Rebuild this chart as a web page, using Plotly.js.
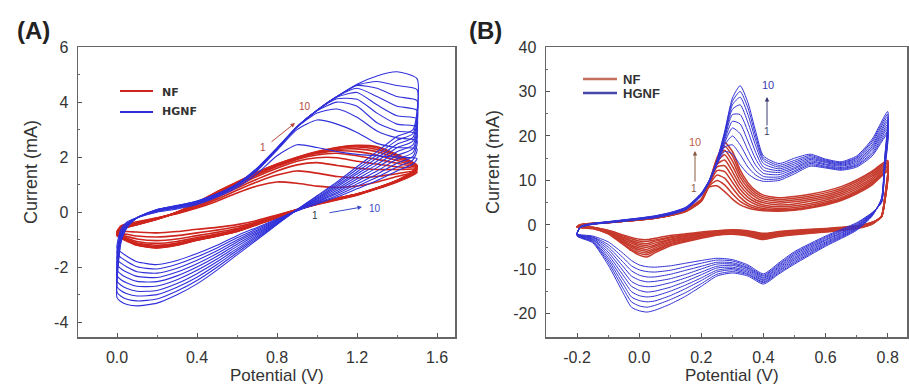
<!DOCTYPE html>
<html><head><meta charset="utf-8">
<script src="https://cdn.plot.ly/plotly-3.0.1.min.js"></script>
<style>html,body{margin:0;padding:0;background:#fff}#c{width:909px;height:387px}</style>
</head><body><div id="c"></div>
<script>
// ---------- Panel A data (potential grid, V) ----------
const A_fwdV = [0, 0.02, 0.05, 0.1, 0.2, 0.3, 0.4, 0.5, 0.6, 0.7, 0.8, 0.9, 1.0, 1.1, 1.2, 1.3, 1.4, 1.5];
const A_revV = [1.48, 1.4, 1.3, 1.2, 1.1, 1.0, 0.9, 0.8, 0.7, 0.6, 0.5, 0.4, 0.3, 0.2, 0.1, 0.05, 0.02, 0];
// HGNF, panel A, cycles 1..10, current (mA)
const A_HGNF_fwd = [
 [-1.3,-0.6,-0.35,-0.2,0.0,0.12,0.28,0.55,0.9,1.4,2.05,2.45,2.35,2.2,2.1,2.05,2.0,1.95],
 [-1.5,-0.7,-0.4,-0.2,0.02,0.15,0.3,0.58,0.95,1.5,2.25,3.0,3.35,3.2,2.9,2.5,2.35,2.3],
 [-1.7,-0.75,-0.42,-0.2,0.04,0.17,0.33,0.6,0.98,1.52,2.28,3.08,3.6,3.75,3.45,2.95,2.7,2.6],
 [-1.9,-0.8,-0.44,-0.2,0.05,0.19,0.35,0.62,1.0,1.55,2.3,3.1,3.68,4.0,3.85,3.25,2.95,2.85],
 [-2.1,-0.85,-0.46,-0.2,0.06,0.2,0.37,0.63,1.0,1.56,2.3,3.1,3.7,4.12,4.1,3.6,3.2,3.1],
 [-2.3,-0.9,-0.48,-0.2,0.07,0.21,0.38,0.64,1.01,1.57,2.31,3.1,3.7,4.18,4.35,3.9,3.5,3.4],
 [-2.5,-0.95,-0.5,-0.2,0.08,0.22,0.39,0.65,1.02,1.58,2.32,3.1,3.7,4.2,4.5,4.2,3.85,3.7],
 [-2.7,-1.0,-0.52,-0.2,0.09,0.23,0.4,0.66,1.02,1.58,2.32,3.1,3.7,4.2,4.6,4.5,4.2,4.05],
 [-2.9,-1.05,-0.54,-0.2,0.1,0.24,0.4,0.66,1.03,1.59,2.33,3.1,3.7,4.2,4.62,4.75,4.6,4.45],
 [-3.1,-1.1,-0.56,-0.2,0.1,0.25,0.41,0.67,1.03,1.6,2.33,3.1,3.7,4.2,4.65,4.95,5.1,4.85]
];
const A_HGNF_rev = [
 [1.75,1.5,1.15,0.85,0.55,0.3,0.05,-0.25,-0.55,-0.85,-1.2,-1.5,-1.75,-1.9,-1.8,-1.6,-1.45,-1.3],
 [1.9,1.64,1.27,0.94,0.61,0.33,0.06,-0.27,-0.6,-0.93,-1.3,-1.62,-1.89,-2.06,-1.98,-1.79,-1.65,-1.5],
 [2.03,1.78,1.38,1.03,0.67,0.37,0.06,-0.29,-0.65,-1.01,-1.4,-1.74,-2.03,-2.21,-2.16,-1.99,-1.85,-1.7],
 [2.17,1.92,1.5,1.12,0.73,0.4,0.07,-0.32,-0.7,-1.08,-1.5,-1.87,-2.17,-2.37,-2.33,-2.18,-2.05,-1.9],
 [2.31,2.06,1.62,1.21,0.79,0.43,0.07,-0.34,-0.75,-1.16,-1.6,-1.99,-2.31,-2.52,-2.51,-2.38,-2.25,-2.1],
 [2.45,2.2,1.73,1.3,0.85,0.47,0.08,-0.36,-0.8,-1.24,-1.7,-2.11,-2.45,-2.68,-2.69,-2.57,-2.45,-2.3],
 [2.59,2.34,1.85,1.39,0.92,0.5,0.08,-0.38,-0.85,-1.32,-1.8,-2.23,-2.59,-2.84,-2.87,-2.77,-2.65,-2.5],
 [2.72,2.47,1.97,1.47,0.98,0.53,0.09,-0.41,-0.9,-1.39,-1.9,-2.36,-2.72,-2.99,-3.04,-2.96,-2.85,-2.7],
 [2.86,2.61,2.08,1.56,1.04,0.57,0.09,-0.43,-0.95,-1.47,-2.0,-2.48,-2.86,-3.15,-3.22,-3.16,-3.05,-2.9],
 [3.0,2.75,2.2,1.65,1.1,0.6,0.1,-0.45,-1.0,-1.55,-2.1,-2.6,-3.0,-3.3,-3.4,-3.35,-3.25,-3.1]
];
// NF, panel A
const A_NF_fwd = [
 [-0.7,-0.5,-0.42,-0.35,-0.2,-0.05,0.15,0.4,0.7,0.95,1.1,1.05,0.95,0.9,0.95,1.1,1.3,1.45],
 [-0.72,-0.52,-0.44,-0.37,-0.21,-0.04,0.18,0.47,0.8,1.1,1.35,1.5,1.42,1.3,1.25,1.3,1.4,1.5],
 [-0.74,-0.54,-0.46,-0.39,-0.22,-0.03,0.22,0.53,0.88,1.2,1.5,1.72,1.8,1.7,1.6,1.55,1.55,1.55],
 [-0.76,-0.56,-0.48,-0.4,-0.23,-0.02,0.26,0.6,0.95,1.3,1.6,1.85,1.98,1.98,1.85,1.75,1.65,1.58],
 [-0.78,-0.58,-0.5,-0.41,-0.23,-0.01,0.29,0.65,1.0,1.35,1.66,1.92,2.08,2.14,2.05,1.92,1.78,1.6],
 [-0.8,-0.6,-0.51,-0.42,-0.24,0.0,0.31,0.68,1.04,1.39,1.7,1.95,2.13,2.23,2.2,2.07,1.88,1.62],
 [-0.81,-0.61,-0.52,-0.43,-0.24,0.0,0.33,0.71,1.06,1.42,1.72,1.97,2.16,2.28,2.3,2.2,1.96,1.65],
 [-0.82,-0.62,-0.53,-0.44,-0.25,0.0,0.34,0.73,1.08,1.43,1.73,1.98,2.18,2.32,2.37,2.28,2.03,1.67],
 [-0.84,-0.64,-0.54,-0.45,-0.25,0.0,0.35,0.74,1.09,1.44,1.74,1.99,2.19,2.34,2.41,2.34,2.07,1.69],
 [-0.85,-0.65,-0.55,-0.45,-0.25,0.0,0.35,0.75,1.1,1.45,1.75,2.0,2.2,2.35,2.43,2.38,2.1,1.7]
];
const A_NF_rev = [
 [1.35,1.1,0.85,0.62,0.45,0.28,0.1,-0.1,-0.3,-0.45,-0.55,-0.62,-0.7,-0.75,-0.72,-0.7,-0.7,-0.7],
 [1.38,1.11,0.86,0.63,0.46,0.29,0.1,-0.13,-0.35,-0.53,-0.65,-0.75,-0.85,-0.9,-0.86,-0.8,-0.78,-0.72],
 [1.41,1.12,0.86,0.64,0.47,0.3,0.09,-0.15,-0.38,-0.59,-0.73,-0.85,-0.97,-1.03,-0.97,-0.88,-0.83,-0.74],
 [1.43,1.13,0.87,0.64,0.48,0.3,0.09,-0.17,-0.41,-0.63,-0.79,-0.92,-1.06,-1.13,-1.06,-0.94,-0.87,-0.76],
 [1.45,1.13,0.87,0.65,0.48,0.31,0.09,-0.18,-0.42,-0.66,-0.82,-0.96,-1.12,-1.2,-1.12,-0.98,-0.9,-0.78],
 [1.46,1.14,0.87,0.65,0.49,0.31,0.08,-0.19,-0.43,-0.67,-0.84,-0.98,-1.15,-1.24,-1.15,-1.0,-0.92,-0.8],
 [1.47,1.14,0.88,0.65,0.49,0.31,0.08,-0.19,-0.44,-0.68,-0.85,-1.0,-1.17,-1.26,-1.17,-1.02,-0.93,-0.81],
 [1.48,1.15,0.88,0.66,0.5,0.32,0.08,-0.2,-0.44,-0.69,-0.86,-1.01,-1.18,-1.28,-1.18,-1.03,-0.94,-0.82],
 [1.49,1.15,0.88,0.66,0.5,0.32,0.08,-0.2,-0.45,-0.7,-0.86,-1.01,-1.19,-1.29,-1.19,-1.04,-0.94,-0.84],
 [1.5,1.15,0.88,0.66,0.5,0.32,0.08,-0.2,-0.45,-0.7,-0.87,-1.02,-1.2,-1.3,-1.2,-1.05,-0.95,-0.85]
];

// ---------- Panel B data ----------
const B_fwdV = [-0.2,-0.19,-0.15,-0.1,-0.05,0,0.05,0.1,0.15,0.2,0.225,0.25,0.275,0.3,0.325,0.35,0.375,0.4,0.45,0.5,0.55,0.6,0.65,0.7,0.75,0.8];
const B_revV = [0.79,0.78,0.75,0.7,0.6,0.5,0.45,0.4,0.35,0.3,0.25,0.2,0.15,0.1,0.05,0.025,0,-0.025,-0.05,-0.1,-0.15,-0.2];
const B_HGNF_fwd = [
 [-2.0,-0.6,0.1,0.45,0.8,1.2,1.6,2.3,3.4,6.5,9.5,13.5,16.5,16.0,13.5,11.5,10.3,9.8,10.0,11.5,13.2,12.8,12.3,13.0,15.5,20.5],
 [-2.1,-0.6,0.13,0.5,0.85,1.25,1.65,2.35,3.5,6.6,9.6,13.7,17.5,18.0,15.8,13.0,11.2,10.3,10.4,11.9,13.5,13.0,12.5,13.3,15.9,21.0],
 [-2.1,-0.55,0.16,0.53,0.9,1.3,1.7,2.4,3.55,6.7,9.7,13.8,18.0,20.0,18.0,14.8,12.2,10.9,10.8,12.2,13.8,13.2,12.7,13.5,16.3,21.6],
 [-2.2,-0.55,0.19,0.57,0.95,1.35,1.75,2.45,3.6,6.8,9.7,13.9,18.5,21.8,20.5,16.8,13.4,11.6,11.3,12.6,14.1,13.5,12.9,13.8,16.8,22.1],
 [-2.2,-0.5,0.22,0.6,1.0,1.4,1.8,2.5,3.7,6.85,9.8,14.0,19.0,23.3,22.7,18.8,14.8,12.3,11.8,12.9,14.4,13.7,13.2,14.1,17.2,22.6],
 [-2.3,-0.5,0.25,0.63,1.03,1.43,1.85,2.55,3.75,6.9,9.8,14.1,19.5,24.8,24.8,21.0,16.3,13.0,12.2,13.3,14.7,14.0,13.4,14.4,17.6,23.2],
 [-2.3,-0.45,0.28,0.66,1.06,1.46,1.9,2.6,3.8,7.0,9.9,14.2,20.0,26.0,27.0,23.0,17.8,13.8,12.6,13.7,15.0,14.2,13.6,14.7,18.0,23.7],
 [-2.4,-0.45,0.3,0.69,1.09,1.49,1.95,2.68,3.88,7.05,9.9,14.3,20.3,27.0,28.7,24.8,19.0,14.5,13.0,14.1,15.3,14.4,13.8,15.0,18.5,24.3],
 [-2.4,-0.4,0.33,0.72,1.12,1.52,2.0,2.74,3.94,7.1,10.0,14.4,20.7,27.8,30.0,26.3,20.0,15.0,13.4,14.5,15.6,14.6,14.0,15.2,18.9,24.9],
 [-2.5,-0.4,0.35,0.75,1.15,1.55,2.05,2.8,4.0,7.2,10.0,14.5,21.0,28.5,31.3,27.5,21.0,15.5,13.8,15.0,15.9,14.8,14.2,15.5,19.3,25.5]
];
const B_HGNF_rev = [
 [12.0,5.0,2.8,0.5,-2.5,-6.0,-8.5,-11.0,-9.0,-7.8,-7.5,-8.0,-8.6,-9.2,-9.5,-9.4,-9.0,-8.0,-6.5,-3.8,-2.5,-2.0],
 [12.3,5.1,2.7,0.3,-2.75,-6.3,-8.8,-11.3,-9.3,-8.1,-7.9,-8.6,-9.4,-10.2,-10.6,-10.5,-10.1,-9.2,-7.5,-4.4,-2.7,-2.1],
 [12.7,5.2,2.6,0.1,-3.0,-6.6,-9.05,-11.5,-9.6,-8.5,-8.4,-9.3,-10.2,-11.1,-11.7,-11.7,-11.3,-10.3,-8.5,-4.95,-2.8,-2.1],
 [13.0,5.3,2.5,-0.1,-3.3,-6.9,-9.35,-11.8,-9.8,-8.8,-8.8,-9.9,-11.1,-12.1,-12.7,-12.8,-12.4,-11.5,-9.5,-5.5,-3.0,-2.2],
 [13.3,5.4,2.4,-0.25,-3.5,-7.25,-9.6,-12.0,-10.1,-9.1,-9.3,-10.6,-11.9,-13.0,-13.8,-13.9,-13.6,-12.7,-10.5,-6.1,-3.2,-2.2],
 [13.7,5.6,2.4,-0.45,-3.8,-7.55,-9.9,-12.3,-10.4,-9.5,-9.7,-11.2,-12.7,-14.0,-14.9,-15.1,-14.7,-13.8,-11.5,-6.7,-3.3,-2.3],
 [14.0,5.7,2.3,-0.65,-4.05,-7.85,-10.2,-12.5,-10.7,-9.8,-10.2,-11.9,-13.5,-14.9,-16.0,-16.2,-15.9,-15.0,-12.5,-7.3,-3.5,-2.3],
 [14.3,5.8,2.2,-0.85,-4.3,-8.2,-10.45,-12.8,-11.0,-10.1,-10.6,-12.5,-14.3,-15.9,-17.1,-17.3,-17.0,-16.2,-13.5,-7.85,-3.7,-2.4],
 [14.7,5.9,2.1,-1.0,-4.55,-8.5,-10.75,-13.0,-11.2,-10.5,-11.1,-13.2,-15.2,-16.8,-18.1,-18.5,-18.2,-17.3,-14.5,-8.4,-3.8,-2.4],
 [15.0,6.0,2.0,-1.2,-4.8,-8.8,-11.0,-13.3,-11.5,-10.8,-11.5,-13.8,-16.0,-17.8,-19.2,-19.6,-19.3,-18.5,-15.5,-9.0,-4.0,-2.5]
];
const B_NF_fwd = [
 [-0.4,-0.05,0.25,0.5,0.8,1.1,1.5,2.1,3.0,5.3,8.5,8.8,7.5,5.8,4.5,3.8,3.4,3.2,3.1,3.3,3.8,4.5,5.5,7.0,9.0,12.0],
 [-0.4,-0.04,0.26,0.51,0.81,1.11,1.51,2.12,3.05,5.35,8.7,10.0,9.0,7.0,5.3,4.3,3.7,3.4,3.2,3.4,3.9,4.7,5.7,7.2,9.2,12.2],
 [-0.4,-0.03,0.27,0.52,0.82,1.12,1.52,2.14,3.1,5.4,8.9,11.2,10.5,8.3,6.2,4.8,4.1,3.7,3.4,3.6,4.1,4.9,5.9,7.4,9.5,12.4],
 [-0.4,-0.02,0.28,0.53,0.83,1.13,1.53,2.16,3.15,5.45,9.0,12.2,12.0,9.6,7.1,5.5,4.6,4.1,3.7,3.9,4.4,5.2,6.2,7.7,9.8,12.7],
 [-0.4,-0.01,0.29,0.54,0.84,1.14,1.54,2.18,3.2,5.5,9.1,13.0,13.3,10.8,8.0,6.2,5.1,4.5,4.1,4.3,4.8,5.6,6.6,8.1,10.2,13.0],
 [-0.5,0.0,0.3,0.55,0.85,1.15,1.55,2.2,3.22,5.55,9.2,13.6,14.6,12.0,8.9,6.9,5.6,5.0,4.5,4.7,5.3,6.0,7.0,8.5,10.6,13.3],
 [-0.5,0.01,0.31,0.56,0.86,1.16,1.56,2.22,3.26,5.6,9.3,14.1,15.8,13.2,9.8,7.6,6.2,5.4,4.9,5.2,5.7,6.4,7.4,8.9,11.0,13.6],
 [-0.5,0.02,0.32,0.57,0.87,1.17,1.57,2.25,3.3,5.65,9.4,14.5,16.8,14.4,10.7,8.3,6.7,5.9,5.3,5.6,6.1,6.8,7.8,9.3,11.4,13.9],
 [-0.5,0.04,0.34,0.59,0.89,1.19,1.59,2.28,3.35,5.75,9.5,14.8,17.7,15.5,11.5,8.9,7.2,6.3,5.7,6.0,6.5,7.2,8.2,9.7,11.8,14.2],
 [-0.5,0.05,0.35,0.6,0.9,1.2,1.6,2.3,3.4,5.8,9.6,15.0,18.5,16.5,12.3,9.5,7.7,6.7,6.1,6.4,6.9,7.6,8.6,10.1,12.1,14.5]
];
const B_NF_rev = [
 [5.0,1.8,0.6,-0.2,-0.8,-1.2,-1.5,-1.9,-1.3,-1.1,-1.3,-1.6,-2.0,-2.4,-3.0,-3.3,-3.2,-2.8,-2.3,-1.2,-0.5,-0.4],
 [5.1,1.8,0.6,-0.3,-0.9,-1.3,-1.6,-2.1,-1.4,-1.2,-1.4,-1.8,-2.2,-2.7,-3.4,-3.7,-3.6,-3.1,-2.5,-1.3,-0.5,-0.4],
 [5.2,1.8,0.5,-0.3,-1.0,-1.4,-1.7,-2.2,-1.6,-1.3,-1.5,-1.9,-2.4,-2.9,-3.7,-4.2,-4.0,-3.5,-2.8,-1.4,-0.6,-0.4],
 [5.3,1.9,0.5,-0.4,-1.1,-1.5,-1.9,-2.4,-1.7,-1.4,-1.6,-2.1,-2.6,-3.2,-4.1,-4.6,-4.4,-3.8,-3.0,-1.5,-0.6,-0.4],
 [5.4,1.9,0.4,-0.5,-1.2,-1.6,-2.0,-2.5,-1.8,-1.5,-1.7,-2.2,-2.8,-3.4,-4.5,-5.0,-4.8,-4.1,-3.3,-1.6,-0.6,-0.4],
 [5.6,1.9,0.4,-0.5,-1.2,-1.7,-2.1,-2.6,-1.9,-1.6,-1.8,-2.4,-3.0,-3.7,-4.8,-5.5,-5.2,-4.5,-3.5,-1.7,-0.7,-0.5],
 [5.7,1.9,0.3,-0.6,-1.3,-1.9,-2.2,-2.8,-2.1,-1.8,-2.0,-2.5,-3.2,-3.9,-5.2,-5.9,-5.6,-4.8,-3.8,-1.8,-0.7,-0.5],
 [5.8,2.0,0.3,-0.7,-1.4,-2.0,-2.4,-2.9,-2.2,-1.9,-2.1,-2.7,-3.4,-4.2,-5.6,-6.3,-6.0,-5.1,-4.0,-1.9,-0.7,-0.5],
 [5.9,2.0,0.2,-0.7,-1.5,-2.1,-2.5,-3.1,-2.4,-2.0,-2.2,-2.8,-3.6,-4.4,-5.9,-6.7,-6.4,-5.5,-4.3,-1.9,-0.8,-0.5],
 [6.0,2.0,0.2,-0.8,-1.6,-2.2,-2.6,-3.3,-2.5,-2.1,-2.3,-3.0,-3.8,-4.7,-6.3,-7.2,-6.8,-5.8,-4.5,-2.0,-0.8,-0.5]
];

// ---------- Tick labels ----------
const A_xTickVals = [0, 0.4, 0.8, 1.2, 1.6];
const A_xTickText = ['0.0', '0.4', '0.8', '1.2', '1.6'];
const A_yTickVals = [-4, -2, 0, 2, 4, 6];
const A_yTickText = ['-4', '-2', '0', '2', '4', '6'];
const B_xTickVals = [-0.2, 0, 0.2, 0.4, 0.6, 0.8];
const B_xTickText = ['-0.2', '0.0', '0.2', '0.4', '0.6', '0.8'];
const B_yTickVals = [-20, -10, 0, 10, 20, 30, 40];
const B_yTickText = ['-20', '-10', '0', '10', '20', '30', '40'];

// ---------- Build traces ----------
const RED_A = 'rgb(206,38,30)', BLUE_A = 'rgb(48,48,218)';
const RED_B = 'rgb(198,58,44)', BLUE_B = 'rgb(50,50,212)';
const traces = [];
function addCycles(fwdV, revV, fwd, rev, color, width, xa, ya) {
  for (let k = 0; k < fwd.length; k++) {
    traces.push({
      type: 'scatter', mode: 'lines', xaxis: xa, yaxis: ya,
      x: fwdV.concat(revV), y: fwd[k].concat(rev[k]),
      line: {color: color, width: width, shape: 'spline', smoothing: 0.6},
      hoverinfo: 'skip', showlegend: false
    });
  }
}
addCycles(A_fwdV, A_revV, A_NF_fwd, A_NF_rev, RED_A, 1.6, 'x', 'y');
addCycles(A_fwdV, A_revV, A_HGNF_fwd, A_HGNF_rev, BLUE_A, 1.1, 'x', 'y');
addCycles(B_fwdV, B_revV, B_NF_fwd, B_NF_rev, RED_B, 1.5, 'x2', 'y2');
addCycles(B_fwdV, B_revV, B_HGNF_fwd, B_HGNF_rev, BLUE_B, 1.0, 'x2', 'y2');

// ---------- Layout helpers (pixel -> paper) ----------
const W = 909, H = 387;
const px = v => v / W, py = v => 1 - v / H;
const FONT = 'Liberation Sans, Arial, Helvetica, sans-serif';

function axisX(domain, range, tv, tt, minorDt) {
  return {domain: domain, range: range, tickmode: 'array', tickvals: tv, ticktext: tt,
    ticks: 'inside', ticklen: 4, tickwidth: 1, tickcolor: '#555',
    minor: {tickmode: 'linear', dtick: minorDt, ticks: 'inside', ticklen: 2, tickcolor: '#666'},
    showline: true, mirror: true, linecolor: '#666', linewidth: 1.5,
    showgrid: false, zeroline: false, ticklabelstandoff: 5,
    tickfont: {family: FONT, size: 16, color: '#333'}};
}
const yDom = [py(337), py(47)];

const ann = [];
function txt(t, x, y, size, color, opts) {
  ann.push(Object.assign({text: t, x: px(x), y: py(y), xref: 'paper', yref: 'paper',
    showarrow: false, xanchor: 'center', yanchor: 'middle',
    font: {family: FONT, size: size, color: color}}, opts || {}));
}
function arrow(tx, ty, hx, hy, color) {
  ann.push({text: '', x: px(hx), y: py(hy), xref: 'paper', yref: 'paper',
    ax: tx - hx, ay: ty - hy, axref: 'pixel', ayref: 'pixel', showarrow: true,
    arrowhead: 2, arrowsize: 0.9, arrowwidth: 1, arrowcolor: color});
}
// panel letters
txt('<b>(A)</b>', 33, 31, 24, '#222');
txt('<b>(B)</b>', 485, 31, 24, '#222');
// axis titles
txt('Potential (V)', 277, 375, 17, '#333');
txt('Potential (V)', 732, 375, 17, '#333');
txt('Current (mA)', 31, 172, 18, '#333', {textangle: -90});
txt('Current (mA)', 493, 162, 18, '#333', {textangle: -90});
// legends text
txt('<b>NF</b>', 160, 92, 11, '#333', {xanchor: 'left', font: {family: 'DejaVu Sans, sans-serif', size: 11, color: '#333'}});
txt('<b>HGNF</b>', 160, 112, 11, '#333', {xanchor: 'left', font: {family: 'DejaVu Sans, sans-serif', size: 11, color: '#333'}});
txt('<b>NF</b>', 621, 79, 13, '#333', {xanchor: 'left'});
txt('<b>HGNF</b>', 621, 93, 13, '#333', {xanchor: 'left'});
// cycle markers A
txt('1', 263, 147, 10, '#b5473a');
txt('10', 305, 107, 10, '#b5473a');
arrow(270, 143, 295, 123, '#b5473a');
txt('1', 315, 215, 10, '#334');
txt('10', 375, 208, 10, '#3a4ac8');
arrow(328, 213, 362, 207, '#3a4ac8');
// cycle markers B
txt('10', 695, 142, 11, '#c0604a');
txt('1', 694, 188, 10, '#8a5a40');
arrow(695, 183, 695, 151, '#8a5a40');
txt('10', 768, 85, 11, '#3a3ab0');
txt('1', 767, 131, 10, '#3a3a70');
arrow(767, 127, 767, 97, '#3a3a70');

const shapes = [
  {type: 'line', xref: 'paper', yref: 'paper', x0: px(120), x1: px(153), y0: py(91), y1: py(91), line: {color: RED_A, width: 2}},
  {type: 'line', xref: 'paper', yref: 'paper', x0: px(120), x1: px(153), y0: py(112), y1: py(112), line: {color: BLUE_A, width: 2}},
  {type: 'line', xref: 'paper', yref: 'paper', x0: px(583), x1: px(617), y0: py(79), y1: py(79), line: {color: 'rgb(196,110,95)', width: 2.5}},
  {type: 'line', xref: 'paper', yref: 'paper', x0: px(583), x1: px(617), y0: py(93), y1: py(93), line: {color: 'rgb(70,70,170)', width: 2.5}}
];

const layout = {
  width: W, height: H, margin: {l: 0, r: 0, t: 0, b: 0},
  paper_bgcolor: '#fff', plot_bgcolor: '#fff', showlegend: false,
  font: {family: FONT, color: '#333'},
  xaxis: Object.assign(axisX([px(78), px(455)], [-0.195, 1.69], A_xTickVals, A_xTickText, 0.2), {anchor: 'y'}),
  yaxis: Object.assign(axisX(yDom, [-4.53, 6], A_yTickVals, A_yTickText, 1), {anchor: 'x'}),
  xaxis2: Object.assign(axisX([px(546), px(907)], [-0.3, 0.862], B_xTickVals, B_xTickText, 0.1), {anchor: 'y2'}),
  yaxis2: Object.assign(axisX(yDom, [-25.2, 40], B_yTickVals, B_yTickText, 5), {anchor: 'x2'}),
  annotations: ann, shapes: shapes
};
Plotly.newPlot('c', traces, layout, {staticPlot: true, displayModeBar: false});
</script></body></html>
